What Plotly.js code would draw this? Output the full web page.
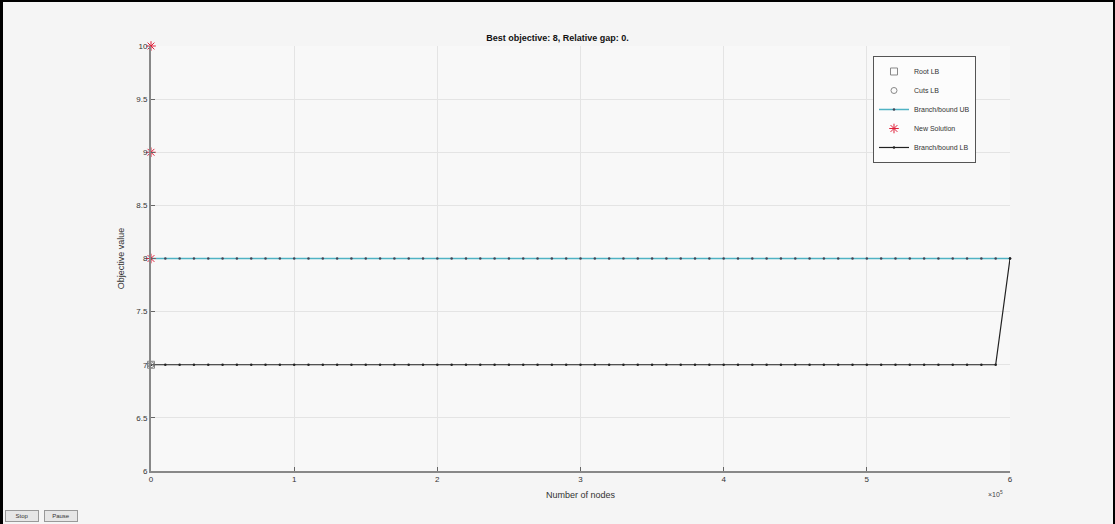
<!DOCTYPE html>
<html>
<head>
<meta charset="utf-8">
<script src="https://cdn.plot.ly/plotly-3.0.1.min.js"></script>
<style>
html,body{margin:0;padding:0;background:#f5f5f5;}
#wrap{position:relative;width:1115px;height:524px;}
#chart{width:1115px;height:524px;}
#frame{position:absolute;left:0;top:0;width:1115px;height:524px;box-sizing:border-box;border-left:3px solid #000;border-top:2px solid #000;border-right:2px solid #000;pointer-events:none;}
</style>
</head>
<body>
<div id="wrap"><div id="chart"></div><div id="frame"></div></div>
<script>
// Node counts (every 10,000 nodes)
const nodesUB = [0,10000,20000,30000,40000,50000,60000,70000,80000,90000,
  100000,110000,120000,130000,140000,150000,160000,170000,180000,190000,
  200000,210000,220000,230000,240000,250000,260000,270000,280000,290000,
  300000,310000,320000,330000,340000,350000,360000,370000,380000,390000,
  400000,410000,420000,430000,440000,450000,460000,470000,480000,490000,
  500000,510000,520000,530000,540000,550000,560000,570000,580000,590000,600000];
const ubValues = [8,8,8,8,8,8,8,8,8,8, 8,8,8,8,8,8,8,8,8,8, 8,8,8,8,8,8,8,8,8,8,
  8,8,8,8,8,8,8,8,8,8, 8,8,8,8,8,8,8,8,8,8, 8,8,8,8,8,8,8,8,8,8, 8];
const nodesLB = nodesUB;
const lbValues = [7,7,7,7,7,7,7,7,7,7, 7,7,7,7,7,7,7,7,7,7, 7,7,7,7,7,7,7,7,7,7,
  7,7,7,7,7,7,7,7,7,7, 7,7,7,7,7,7,7,7,7,7, 7,7,7,7,7,7,7,7,7,7, 8];
const rootNodes = [0];
const rootLB = [7];
const cutsNodes = [0];
const cutsLB = [7];
const newSolNodes = [0,0,0];
const newSolValues = [10,9,8];
const xTickVals = [0,100000,200000,300000,400000,500000,600000];
const xTickText = ['0','1','2','3','4','5','6'];
const yTickVals = [6,6.5,7,7.5,8,8.5,9,9.5,10];
const yTickText = ['6','6.5','7','7.5','8','8.5','9','9.5','10'];

const F = 'Liberation Sans, Arial, sans-serif';

const traces = [
  {x: rootNodes, y: rootLB, name: 'Root LB', mode: 'markers', type: 'scatter',
   marker: {symbol: 'square-open', size: 7, color: '#888'}, cliponaxis: false},
  {x: cutsNodes, y: cutsLB, name: 'Cuts LB', mode: 'markers', type: 'scatter',
   marker: {symbol: 'circle-open', size: 6, color: '#888'}, cliponaxis: false},
  {x: nodesUB, y: ubValues, name: 'Branch/bound UB', mode: 'lines+markers', type: 'scatter',
   line: {color: '#4fb3c4', width: 1.5}, marker: {symbol: 'circle', size: 2.5, color: '#445'}, cliponaxis: false},
  {x: newSolNodes, y: newSolValues, name: 'New Solution', mode: 'markers', type: 'scatter',
   marker: {symbol: 'asterisk-open', size: 8, color: '#e0203a', line: {color: '#e0203a', width: 1}}, cliponaxis: false},
  {x: nodesLB, y: lbValues, name: 'Branch/bound LB', mode: 'lines+markers', type: 'scatter',
   line: {color: '#222', width: 1.2}, marker: {symbol: 'circle', size: 2.5, color: '#222'}, cliponaxis: false}
];

const layout = {
  width: 1115, height: 524,
  paper_bgcolor: '#f5f5f5', plot_bgcolor: '#f8f8f8',
  margin: {l: 151, r: 105, t: 46, b: 53},
  font: {family: F, size: 8, color: '#333'},
  title: {text: '<b>Best objective: 8, Relative gap: 0.</b>', font: {family: F, size: 9, color: '#111'},
          x: 0.5, xanchor: 'center', y: 1 - 38/524, yanchor: 'middle'},
  showlegend: true,
  legend: {x: 0.8405, y: 0.9765, xanchor: 'left', yanchor: 'top', bgcolor: '#fcfcfc',
           bordercolor: '#555', borderwidth: 1, font: {family: F, size: 7, color: '#333'},
           tracegroupgap: 0, itemwidth: 30},
  xaxis: {range: [0, 600000], tickvals: xTickVals, ticktext: xTickText, showgrid: true,
          gridcolor: '#e4e4e4', zeroline: false, showline: true, linecolor: '#888', linewidth: 1.5,
          ticks: 'inside', ticklen: 4, tickcolor: '#666', tickfont: {size: 8, color: '#333'},
          title: {text: 'Number of nodes', font: {size: 9, color: '#333'}, standoff: 8}},
  yaxis: {range: [6, 10], tickvals: yTickVals, ticktext: yTickText, showgrid: true,
          gridcolor: '#e4e4e4', zeroline: false, showline: true, linecolor: '#888', linewidth: 2,
          ticks: 'inside', ticklen: 4, tickcolor: '#666', tickfont: {size: 8, color: '#333'},
          title: {text: 'Objective value', font: {size: 9, color: '#333'}, standoff: 10}},
  annotations: [
    {xref: 'paper', yref: 'paper', x: (995-151)/859, y: (471-494)/425, text: '×10<sup>5</sup>',
     showarrow: false, font: {size: 7, color: '#444'}, xanchor: 'center', yanchor: 'middle'},
    {xref: 'paper', yref: 'paper', x: (22-151)/859, y: (471-516)/425, text: 'Stop',
     showarrow: false, font: {size: 6, color: '#333'}, bgcolor: '#e6e6e6', bordercolor: '#999',
     borderwidth: 1, borderpad: 2, width: 28, xanchor: 'center', yanchor: 'middle'},
    {xref: 'paper', yref: 'paper', x: (61-151)/859, y: (471-516)/425, text: 'Pause',
     showarrow: false, font: {size: 6, color: '#333'}, bgcolor: '#e6e6e6', bordercolor: '#999',
     borderwidth: 1, borderpad: 2, width: 28, xanchor: 'center', yanchor: 'middle'}
  ]
};

Plotly.newPlot('chart', traces, layout, {displayModeBar: false, staticPlot: true});
</script>
</body>
</html>
